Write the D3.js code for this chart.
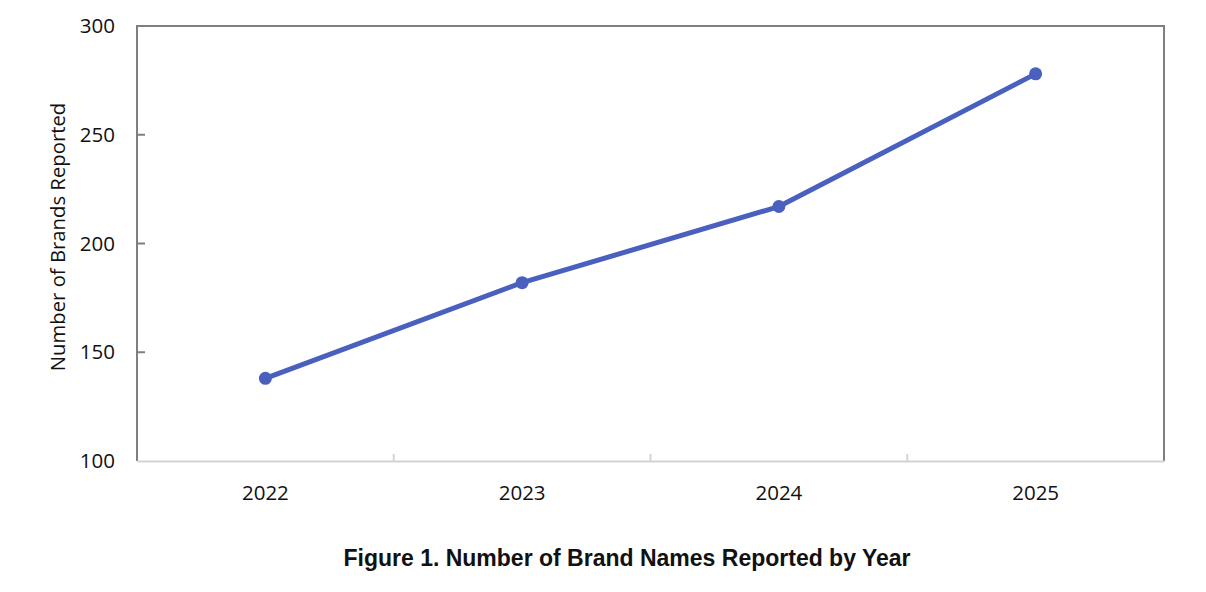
<!DOCTYPE html>
<html>
<head>
<meta charset="utf-8">
<script src="https://cdn.jsdelivr.net/npm/d3@7"></script>
<style>
  body { margin: 0; background: #fff; }
  svg text { font-family: "Open Sans", "Noto Sans", sans-serif; fill: #111; }
</style>
</head>
<body>
<script>
// Werte
const years = ['2022', '2023', '2024', '2025'];
const brands = [138, 182, 217, 278];
const yTicks = [100, 150, 200, 250, 300];

const width = 1206, height = 592;
const margin = { top: 26, right: 42, bottom: 131, left: 137 };

const svg = d3.select('body').append('svg')
    .attr('width', width)
    .attr('height', height);

const x = d3.scaleBand()
    .domain(years)
    .range([margin.left, width - margin.right]);

const y = d3.scaleLinear()
    .domain([100, 300])
    .range([height - margin.bottom, margin.top]);

const plotG = svg.append('g').attr('class', 'plot');

// Rahmen links, oben, rechts
plotG.append('path')
    .attr('d', `M${margin.left},${y(100)}V${margin.top}H${width - margin.right}V${y(100)}`)
    .attr('fill', 'none')
    .attr('stroke', '#7f7f7f')
    .attr('stroke-width', 2);

// y Achse
const yAxis = svg.append('g')
    .attr('transform', `translate(${margin.left},0)`)
    .call(d3.axisLeft(y).tickValues(yTicks).tickSize(0).tickPadding(22));
yAxis.select('.domain').remove();
yAxis.selectAll('text').style('font-size', '20.5px');

// kleine Ticks innen
plotG.selectAll('line.ytick')
    .data(yTicks.slice(1, -1))
    .enter()
    .append('line')
    .attr('class', 'ytick')
    .attr('x1', margin.left).attr('x2', margin.left + 8)
    .attr('y1', d => y(d)).attr('y2', d => y(d))
    .attr('stroke', '#7f7f7f')
    .attr('stroke-width', 2);

// x Achse
const xAxis = svg.append('g')
    .attr('transform', `translate(0,${y(100)})`)
    .call(d3.axisBottom(x).tickSize(0).tickPadding(24));
xAxis.select('.domain')
    .attr('stroke', '#d4d4d4')
    .attr('stroke-width', 2);
xAxis.selectAll('text').style('font-size', '20.5px');

// Ticks zwischen Kategorien
plotG.selectAll('line.xtick')
    .data(years.slice(1))
    .enter()
    .append('line')
    .attr('class', 'xtick')
    .attr('x1', d => x(d)).attr('x2', d => x(d))
    .attr('y1', y(100)).attr('y2', y(100) - 7)
    .attr('stroke', '#d4d4d4')
    .attr('stroke-width', 2);

// Linie
const line = d3.line()
    .x((d, i) => x(years[i]) + x.bandwidth() / 2)
    .y(d => y(d));

plotG.append('path')
    .datum(brands)
    .attr('d', line)
    .attr('fill', 'none')
    .attr('stroke', '#4a60bf')
    .attr('stroke-width', 5)
    .attr('stroke-linejoin', 'round');

plotG.selectAll('circle.dot')
    .data(brands)
    .enter()
    .append('circle')
    .attr('class', 'dot')
    .attr('cx', (d, i) => x(years[i]) + x.bandwidth() / 2)
    .attr('cy', d => y(d))
    .attr('r', 6.5)
    .attr('fill', '#4a60bf');

// Achsentitel
svg.append('text')
    .attr('transform', `translate(65,237) rotate(-90)`)
    .attr('text-anchor', 'middle')
    .style('font-size', '20.3px')
    .text('Number of Brands Reported');

// Bildunterschrift
svg.append('text')
    .attr('x', 627)
    .attr('y', 566)
    .attr('text-anchor', 'middle')
    .style('font-family', '"Liberation Sans", Arial, sans-serif')
    .style('font-weight', 'bold')
    .style('font-size', '23px')
    .text('Figure 1. Number of Brand Names Reported by Year');
</script>
</body>
</html>
